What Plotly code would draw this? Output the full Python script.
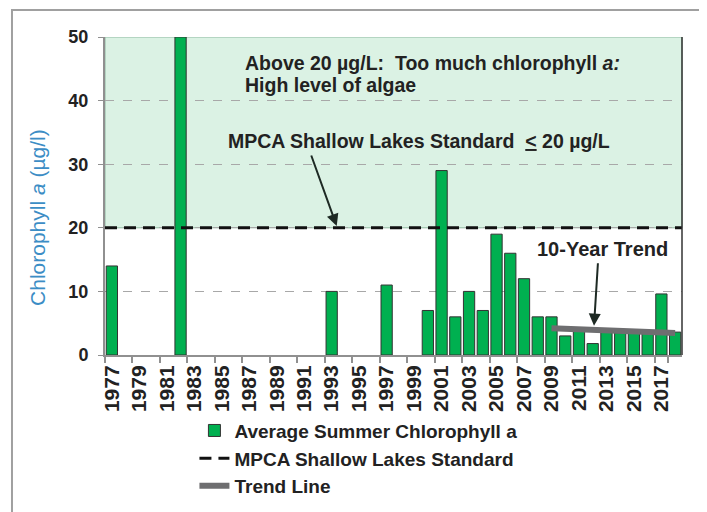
import plotly.graph_objects as go

years = ["1977", "1978", "1979", "1980", "1981", "1982", "1983", "1984", "1985", "1986",
         "1987", "1988", "1989", "1990", "1991", "1992", "1993", "1994", "1995", "1996",
         "1997", "1998", "1999", "2000", "2001", "2002", "2003", "2004", "2005", "2006",
         "2007", "2008", "2009", "2010", "2011", "2012", "2013", "2014", "2015", "2016",
         "2017", "2018"]
chl_a = [14, None, None, None, None, 50, None, None, None, None,
         None, None, None, None, None, None, 10, None, None, None,
         11, None, None, 7, 29, 6, 10, 7, 19, 16,
         12, 6, 6, 3, 3.7, 1.8, 3.6, 3.5, 3.5, 3.5,
         9.6, 3.6]
tick_years = ["1977", "1979", "1981", "1983", "1985", "1987", "1989", "1991", "1993", "1995",
              "1997", "1999", "2001", "2003", "2005", "2007", "2009", "2011", "2013", "2015", "2017"]
standard = 20
trend_years = ["2009", "2018"]
trend_vals = [4.2, 3.45]

FONT = "Liberation Sans, Arial, sans-serif"
TXT = "#222222"
GREEN = "#00b050"

fig = go.Figure()
fig.add_trace(go.Bar(
    x=years, y=chl_a, name="Average Summer Chlorophyll a",
    marker=dict(color=GREEN, line=dict(color="#333333", width=1)),
    showlegend=False,
))
fig.add_trace(go.Scatter(
    x=trend_years, y=trend_vals, mode="lines", name="Trend Line",
    line=dict(color="#6e6e70", width=6), legendrank=3,
))

shapes = [
    dict(type="rect", xref="paper", yref="y", x0=0, x1=1, y0=standard, y1=50,
         fillcolor="#dbf2e4", line=dict(color="#8db89f", width=1), layer="between"),
    dict(type="line", xref="paper", yref="y", x0=0, x1=1, y0=standard, y1=standard,
         line=dict(color="#111111", width=3, dash="12px,7px"),
         showlegend=True, name="MPCA Shallow Lakes Standard", legendrank=2),
    dict(type="rect", xref="paper", yref="paper", x0=3, x1=3.01, y0=3, y1=3.01,
         fillcolor=GREEN, line=dict(color="#333333", width=1),
         showlegend=True, name="Average Summer Chlorophyll a", legendrank=1),
    dict(type="line", xref="paper", yref="paper", x0=1, x1=1, y0=0, y1=1,
         line=dict(color="#333333", width=1.5)),
    dict(type="rect", xref="paper", yref="paper", x0=-0.1612, x1=1.0399, y0=-0.51, y1=1.085,
         line=dict(color="#a0a0a0", width=2), fillcolor="rgba(0,0,0,0)"),
]

def ann(x, y, text, xanchor="left", size=19.5):
    return dict(xref="paper", yref="paper", x=x, y=y, xanchor=xanchor, yanchor="middle",
                align="left", showarrow=False, text=text,
                font=dict(family=FONT, size=size, color=TXT, weight="bold"))

annotations = [
    ann(0.239, (355 - 63) / 318, "Above 20 µg/L:\u00a0 Too much chlorophyll <i>a:</i>"),
    ann(0.239, (355 - 85) / 318, "High level of algae"),
    ann(0.2097, (355 - 141) / 318, "MPCA Shallow Lakes Standard\u00a0 <u>&lt;</u> 20 µg/L"),
    ann(0.863, (355 - 249) / 318, "10-Year Trend", xanchor="center", size=20),
    dict(xref="paper", yref="paper", x=-0.1161, y=0.431, xanchor="center", yanchor="middle",
         textangle=-90, showarrow=False, text="Chlorophyll <i>a</i> (µg/l)",
         font=dict(family=FONT, size=21, color="#3c8dc5")),
    dict(xref="paper", yref="paper", x=0.4016, y=0.4057, text="", showarrow=True,
         ax=-26, ay=-72, arrowhead=2, arrowsize=1.2, arrowwidth=2, arrowcolor="#1e2a24"),
    dict(xref="paper", yref="paper", x=0.8475, y=0.0921, text="", showarrow=True,
         ax=4, ay=-64, arrowhead=2, arrowsize=1.2, arrowwidth=2, arrowcolor="#1e2a24"),
]

fig.update_layout(
    width=699, height=504, autosize=False,
    margin=dict(l=97, r=25, t=29, b=157, autoexpand=False),
    paper_bgcolor="white", plot_bgcolor="white",
    font=dict(family=FONT, color=TXT),
    bargap=0.18,
    shapes=shapes, annotations=annotations,
    legend=dict(x=0.155, y=-0.178, xanchor="left", yanchor="top", orientation="v",
                font=dict(family=FONT, size=19, color=TXT, weight="bold"),
                bgcolor="rgba(0,0,0,0)", tracegroupgap=0, itemwidth=30),
    xaxis=dict(type="category", range=[-0.5, 41.5], tickmode="array",
               tickvals=tick_years, ticktext=tick_years, tickangle=-90,
               tickson="boundaries", ticks="outside", ticklen=6, tickcolor="#909090",
               tickwidth=2, showline=True, linecolor="#909090", linewidth=2,
               showgrid=False, automargin=False,
               tickfont=dict(family=FONT, size=21, color=TXT, weight="bold")),
    yaxis=dict(range=[0, 50], dtick=10, tick0=0, showgrid=True, gridcolor="#a8a8a8",
               griddash="dash", gridwidth=1, zeroline=False, showline=True,
               linecolor="#909090", linewidth=2, ticks="outside", ticklen=5,
               tickcolor="#909090", ticklabelstandoff=6, automargin=False,
               tickfont=dict(family=FONT, size=18, color=TXT, weight="bold")),
)

fig.write_html("out.html")
